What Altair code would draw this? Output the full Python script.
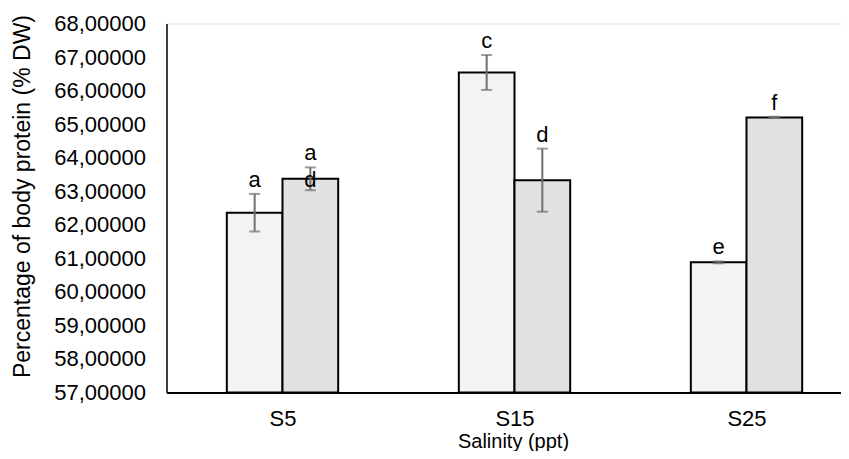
import altair as alt
import pandas as pd

# ---- data ----
cats = ["S5", "S15", "S25"]
series = ["sparse", "dense"]
sparse_mean = [62.36, 66.54, 60.88]
sparse_se = [0.56, 0.52, 0.03]
dense_mean = [63.37, 63.33, 65.20]
dense_se = [0.34, 0.94, 0.02]
sparse_letters = ["a", "c", "e"]
dense_letters = ["a", "d", "f"]
extra_cat = ["S5"]
extra_series = ["dense"]
extra_letter = ["d"]
y_ticks = list(range(57, 69))

rows = []
for i, c in enumerate(cats):
    rows.append(dict(cat=c, idx=i, g=0, series="sparse", mean=sparse_mean[i],
                     se=sparse_se[i], letter=sparse_letters[i]))
    rows.append(dict(cat=c, idx=i, g=1, series="dense", mean=dense_mean[i],
                     se=dense_se[i], letter=dense_letters[i]))
df = pd.DataFrame(rows)

extra_rows = []
for c, s, l in zip(extra_cat, extra_series, extra_letter):
    r = df[(df.cat == c) & (df.series == s)].iloc[0]
    extra_rows.append(dict(cat=c, idx=int(r.idx), g=int(r.g), mean=float(r["mean"]), letter=l))
df_extra = pd.DataFrame(extra_rows)

PLOT_W = 674.5
PLOT_H = 369
STEP = 232.0
XMAX = PLOT_W / STEP
BARW = 0.24

FONT = "Liberation Sans"
label_expr = "[" + ",".join("'%s'" % c for c in cats) + "][floor(datum.value)]"

xscale = alt.Scale(domain=[0, XMAX], nice=False, zero=False)
yscale = alt.Scale(domain=[57, 68], nice=False, zero=False)

xaxis = alt.Axis(values=[i + 0.5 for i in range(len(cats))], labelExpr=label_expr,
                 ticks=False, tickSize=0, grid=False, domainColor="black", domainWidth=2,
                 labelFontSize=22, labelColor="black", labelFont=FONT, labelPadding=26,
                 labelBaseline="middle", labelOverlap=False,
                 title="Salinity (ppt)", titleFontSize=20,
                 titleFont=FONT, titleFontWeight="normal", titleColor="black",
                 titleX=346.5, titleY=49, titleBaseline="middle", titleAlign="center")
yaxis = alt.Axis(values=y_ticks, labelExpr="replace(format(datum.value, '.5f'), '.', ',')",
                 ticks=False, tickSize=0, grid=False, domainColor="black", domainWidth=1.5,
                 labelFontSize=22, labelColor="black", labelFont=FONT, labelPadding=21,
                 labelOverlap=False, labelBound=False, labelFlush=False, labelSeparation=0,
                 labelBaseline="middle",
                 title="Percentage of body protein (% DW)", titleFontSize=23, titleFont=FONT,
                 titleFontWeight="normal", titleColor="black", titleAngle=-90,
                 titleX=-144.5, titleY=172.5, titleBaseline="middle", titleAlign="center")

base = alt.Chart(df).transform_calculate(
    x0="datum.idx + 0.5 - %f + datum.g * %f" % (BARW, BARW)
).transform_calculate(
    x1="datum.x0 + %f" % BARW
).transform_calculate(
    xc="datum.x0 + %f" % (BARW / 2)
).transform_calculate(
    lo="datum.mean - datum.se"
).transform_calculate(
    hi="datum.mean + datum.se"
)


def X(f):
    return alt.X(f, type="quantitative", scale=xscale, axis=xaxis)


def Y(f):
    return alt.Y(f, type="quantitative", scale=yscale, axis=yaxis)


bars = base.mark_bar(stroke="black", strokeWidth=2).encode(
    x=X("x0"),
    x2="x1:Q",
    y=Y("mean"),
    y2=alt.datum(57),
    fill=alt.Fill("series:N", scale=alt.Scale(domain=series, range=["#f3f3f3", "#e2e2e2"]),
                  legend=None),
)

err = base.mark_rule(color="#707070", strokeWidth=2).encode(
    x=X("xc"), y=Y("lo"), y2="hi:Q"
)
cap_lo = base.mark_tick(color="#707070", orient="horizontal", size=11, thickness=2).encode(
    x=X("xc"), y=Y("lo")
)
cap_hi = base.mark_tick(color="#707070", orient="horizontal", size=11, thickness=2).encode(
    x=X("xc"), y=Y("hi")
)

letters = base.mark_text(fontSize=22, font=FONT, color="black", baseline="alphabetic",
                         align="center", dy=-7).encode(
    x=X("xc"), y=Y("hi"), text="letter:N"
)

extra = alt.Chart(df_extra).transform_calculate(
    xc="datum.idx + 0.5 - %f + datum.g * %f + %f" % (BARW, BARW, BARW / 2)
).mark_text(fontSize=22, font=FONT, color="black", baseline="alphabetic",
            align="center", dy=8).encode(
    x=X("xc"), y=Y("mean"), text="letter:N"
)

chart = alt.layer(bars, err, cap_lo, cap_hi, letters, extra).properties(
    width=PLOT_W, height=PLOT_H,
    autosize=alt.AutoSizeParams(type="none"),
    padding={"left": 158.5, "top": 15.5, "right": 0, "bottom": 58.5},
).configure_view(stroke=None).configure(background="white").configure_axis(
    labelOverlap=False
).configure_axisY(labelOverlap=False)

chart.save("out.html", embed_options={"renderer": "svg", "actions": False})
